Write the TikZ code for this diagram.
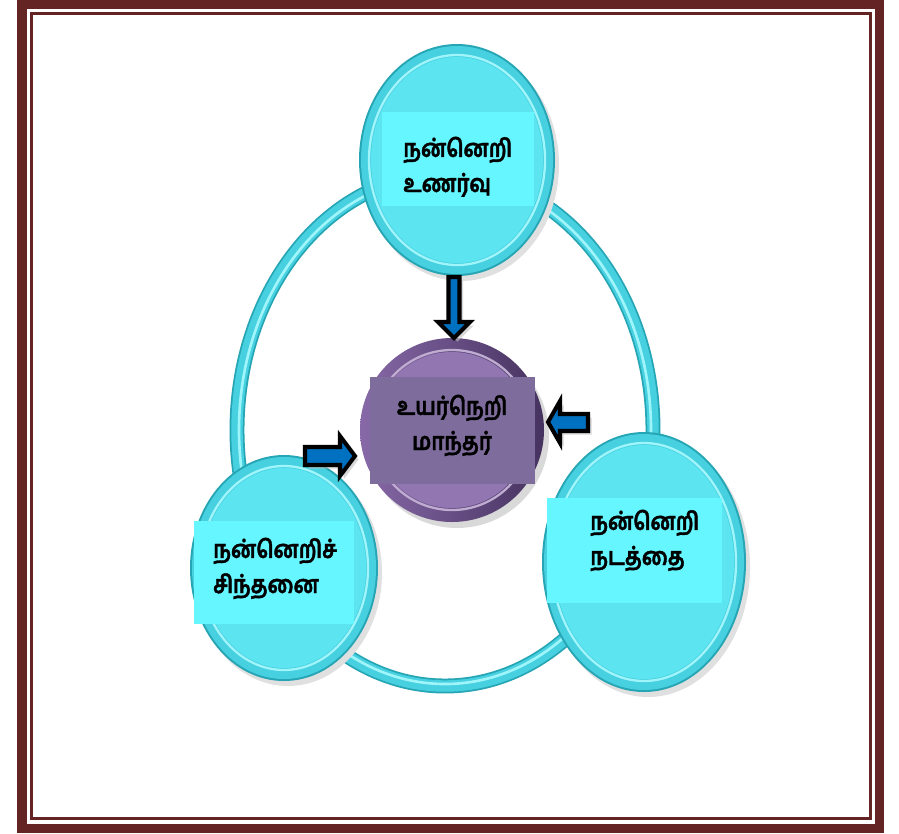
\documentclass[tikz,border=0pt]{standalone}
\usepackage{fontspec}
\newfontfamily\tamilfont[Script=Tamil, FakeStretch=0.85, BoldFeatures={FakeBold=1.5}]{Hind Madurai}
\usepackage{xcolor}
\usepackage{tikz}
\usetikzlibrary{shadows}
\definecolor{framered}{RGB}{101,36,36}
\definecolor{cyanedge}{RGB}{38,165,180}
\definecolor{cyanring}{RGB}{70,208,224}
\definecolor{cyanlight}{RGB}{160,245,250}
\definecolor{cyanfill}{RGB}{92,228,240}
\definecolor{cyanbox}{RGB}{102,246,255}
\definecolor{purpleedge}{RGB}{70,50,95}
\definecolor{purplering}{RGB}{135,105,168}
\definecolor{purplefill}{RGB}{146,118,178}
\definecolor{purplebox}{RGB}{126,108,156}
\definecolor{arrowblue}{RGB}{0,112,192}

\begin{document}
\begin{tikzpicture}[x=0.02cm,y=-0.02cm,
    cbox/.style={fill=cyanbox, inner sep=0pt, anchor=north west},
    pbox/.style={fill=purplebox, inner sep=0pt, anchor=north west},
    tlabel/.style={font=\tamilfont\bfseries\fontsize{14}{20}\selectfont, align=left, inner sep=0pt},
    barrow/.style={fill=arrowblue, draw=black, line width=2.3pt, line join=miter,
        drop shadow={shadow xshift=2pt, shadow yshift=-2pt, fill=black!25, opacity=0.6}}]
\useasboundingbox (0,0) rectangle (899,833);
\fill[white] (0,0) rectangle (899,833);
\draw[framered, line width=5.4pt] (22,4.5) rectangle (879.5,828.5);
\draw[framered, line width=1.7pt] (31.5,13.5) rectangle (870,818.5);

\draw[cyanedge, line width=8.5pt] (445,430) ellipse [x radius=208, y radius=256];
\draw[cyanring, line width=6.5pt] (445,430) ellipse [x radius=208, y radius=256];
\draw[cyanlight, line width=1.5pt] (445,430) ellipse [x radius=206, y radius=254];

\foreach \cx/\cy/\rx/\ry in {457/160/98/116, 284/568/94/113, 644/562/102/130}{
    \fill[black!12] (\cx+4,\cy+5) ellipse [x radius=\rx, y radius=\ry];
    \fill[cyanedge] (\cx,\cy) ellipse [x radius=\rx, y radius=\ry];
    \fill[cyanring] (\cx,\cy) ellipse [x radius=\rx-2, y radius=\ry-2];
    \draw[cyanlight, line width=1.3pt] (\cx,\cy) ellipse [x radius=\rx-10, y radius=\ry-11];
    \fill[cyanfill] (\cx,\cy) ellipse [x radius=\rx-12, y radius=\ry-13];
}

\fill[black!15] (457,436) circle [radius=92];
\shade[left color=purplering, right color=purpleedge] (452,430) circle [radius=92];
\draw[purplefill!60!white, line width=1.3pt] (452,430) circle [radius=80];
\fill[purplefill] (452,430) circle [radius=78];

\node[cbox, minimum width=3.04cm, minimum height=1.88cm] (bTop) at (382,112) {};
\node[cbox, minimum width=3.2cm, minimum height=2.06cm] (bLeft) at (194,521) {};
\node[cbox, minimum width=3.5cm, minimum height=2.1cm] (bRight) at (547,498) {};
\node[pbox, minimum width=3.3cm, minimum height=2.14cm] (bMid) at (370,377) {};

\node[tlabel, anchor=base west] (tTop) at (403,192) {நன்னெறி\\உணர்வு};
\node[tlabel, anchor=base west] (tLeft) at (213,593) {நன்னெறிச்\\சிந்தனை};
\node[tlabel, anchor=base west] (tRight) at (590,565) {நன்னெறி\\நடத்தை};
\node[tlabel, align=center, anchor=base] (tMid) at (452,450) {உயர்நெறி\\மாந்தர்};

\draw[barrow] (448.5,277) -- (459.5,277) -- (459.5,322) -- (470,322) -- (454,338)
    -- (438,322) -- (448.5,322) -- cycle;
\draw[barrow] (588,414) -- (560,414) -- (560,401) -- (548,422) -- (560,443)
    -- (560,431) -- (588,431) -- cycle;
\draw[barrow] (305,447) -- (340,447) -- (340,436) -- (355,456) -- (340,476)
    -- (340,465) -- (305,465) -- cycle;
\end{tikzpicture}
\end{document}
